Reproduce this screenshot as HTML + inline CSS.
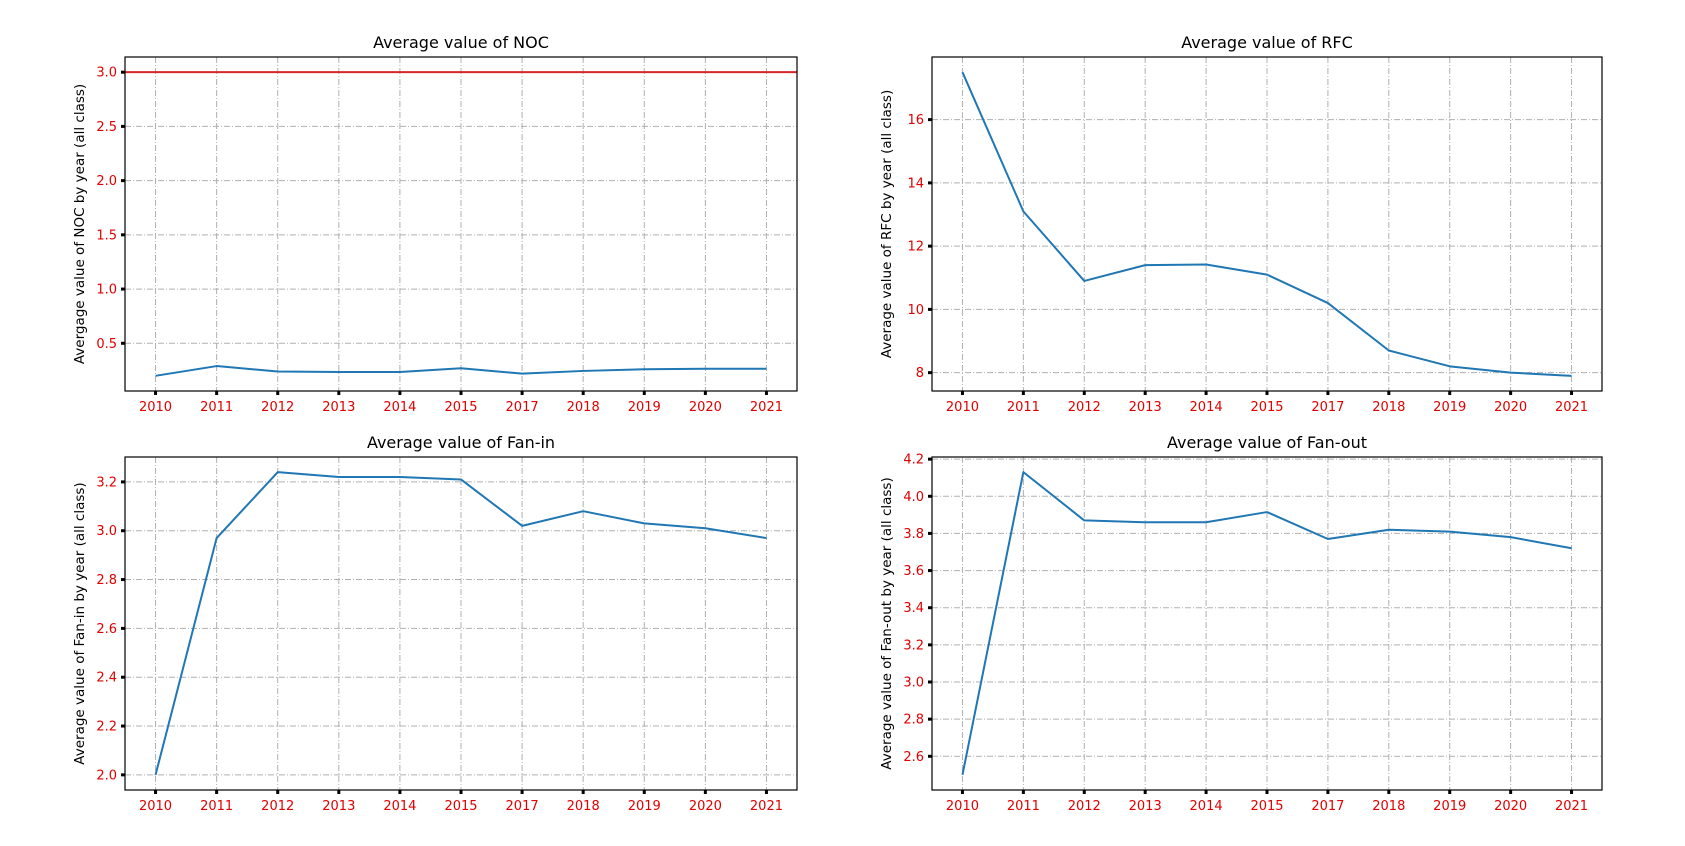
<!DOCTYPE html>
<html><head><meta charset="utf-8"><style>
body{margin:0;background:#fff}
svg{display:block}
text{font-family:"DejaVu Sans","Liberation Sans",sans-serif}
</style></head><body>
<svg id="fig" width="1685" height="846" viewBox="0 0 1685 846"></svg>
<script>
const years = ["2010","2011","2012","2013","2014","2015","2017","2018","2019","2020","2021"];
const nocValues = [0.20,0.29,0.24,0.235,0.235,0.27,0.22,0.245,0.26,0.265,0.265];
const nocThreshold = 3.0;
const nocTicks = [0.5,1.0,1.5,2.0,2.5,3.0];
const rfcValues = [17.5,13.1,10.9,11.4,11.42,11.1,10.2,8.7,8.2,8.0,7.9];
const rfcTicks = [8,10,12,14,16];
const faninValues = [2.0,2.97,3.24,3.22,3.22,3.21,3.02,3.08,3.03,3.01,2.97];
const faninTicks = [2.0,2.2,2.4,2.6,2.8,3.0,3.2];
const fanoutValues = [2.5,4.13,3.87,3.86,3.86,3.915,3.77,3.82,3.81,3.78,3.72];
const fanoutTicks = [2.6,2.8,3.0,3.2,3.4,3.6,3.8,4.0,4.2];

const NS="http://www.w3.org/2000/svg";
const svg=document.getElementById('fig');
function mk(tag,attrs,parent){const e=document.createElementNS(NS,tag);for(const k in attrs)e.setAttribute(k,attrs[k]);(parent||svg).appendChild(e);return e;}

function panel(key,box,title,ylabel,values,ticks,dec,hline){
  const g=mk('g',{});
  
  
  const [L,T,R,B]=box;
  let lo=Math.min(...values), hi=Math.max(...values);
  if(hline!==undefined){lo=Math.min(lo,hline);hi=Math.max(hi,hline);}
  const m=(hi-lo)*0.05; lo-=m; hi+=m;
  const n=years.length;
  const xs=i=>L+(R-L)*((i+0.5)/n);
  const ys=v=>B-(v-lo)/(hi-lo)*(B-T);
  years.forEach((y,i)=>{
    const l=mk('line',{x1:xs(i),x2:xs(i),y1:T,y2:B,stroke:'#b0b0b0','stroke-width':1,'stroke-dasharray':'6,2,1,2'},g);
    
    
    const tk=mk('line',{x1:xs(i),x2:xs(i),y1:B,y2:B+4,stroke:'#000','stroke-width':3},g);
    
    
    const t=mk('text',{x:xs(i),y:B+20,'text-anchor':'middle','font-size':13,fill:'#e00000'},g);
    t.textContent=y;
    
    
  });
  ticks.forEach(v=>{
    const y=ys(v);
    const l=mk('line',{x1:L,x2:R,y1:y,y2:y,stroke:'#b0b0b0','stroke-width':1,'stroke-dasharray':'6,2,1,2'},g);
    
    
    const tk=mk('line',{x1:L-4,x2:L,y1:y,y2:y,stroke:'#000','stroke-width':3},g);
    
    
    const t=mk('text',{x:L-8,y:y+4.5,'text-anchor':'end','font-size':13,fill:'#e00000'},g);
    t.textContent=v.toFixed(dec);
    
    
  });
  if(hline!==undefined){
    const h=mk('line',{x1:L,x2:R,y1:ys(hline),y2:ys(hline),stroke:'#d62728','stroke-width':2},g);
    
    
  }
  const p=mk('polyline',{points:values.map((v,i)=>xs(i)+','+ys(v)).join(' '),fill:'none',stroke:'#1f77b4','stroke-width':2,'stroke-linejoin':'round'},g);
  
  
  const f=mk('rect',{x:L,y:T,width:R-L,height:B-T,fill:'none',stroke:'#000','stroke-width':1.2},g);
  
  
  const tt=mk('text',{x:(L+R)/2,y:T-9,'text-anchor':'middle','font-size':16,fill:'#000'},g);
  tt.textContent=title;
  
  
  const yl=mk('text',{x:0,y:0,'text-anchor':'middle','font-size':13.5,fill:'#000',transform:`translate(${L-41},${(T+B)/2}) rotate(-90)`},g);
  yl.textContent=ylabel;
  
  
}
panel('noc',[125,57,797,391],'Average value of NOC','Avergage value of NOC by year (all class)',nocValues,nocTicks,1,nocThreshold);
panel('rfc',[932,57,1602,391],'Average value of RFC','Average value of RFC by year (all class)',rfcValues,rfcTicks,0);
panel('fanin',[125,457,797,790],'Average value of Fan-in','Average value of Fan-in by year (all class)',faninValues,faninTicks,1);
panel('fanout',[932,457,1602,790],'Average value of Fan-out','Average value of Fan-out by year (all class)',fanoutValues,fanoutTicks,1);
</script>
</body></html>
